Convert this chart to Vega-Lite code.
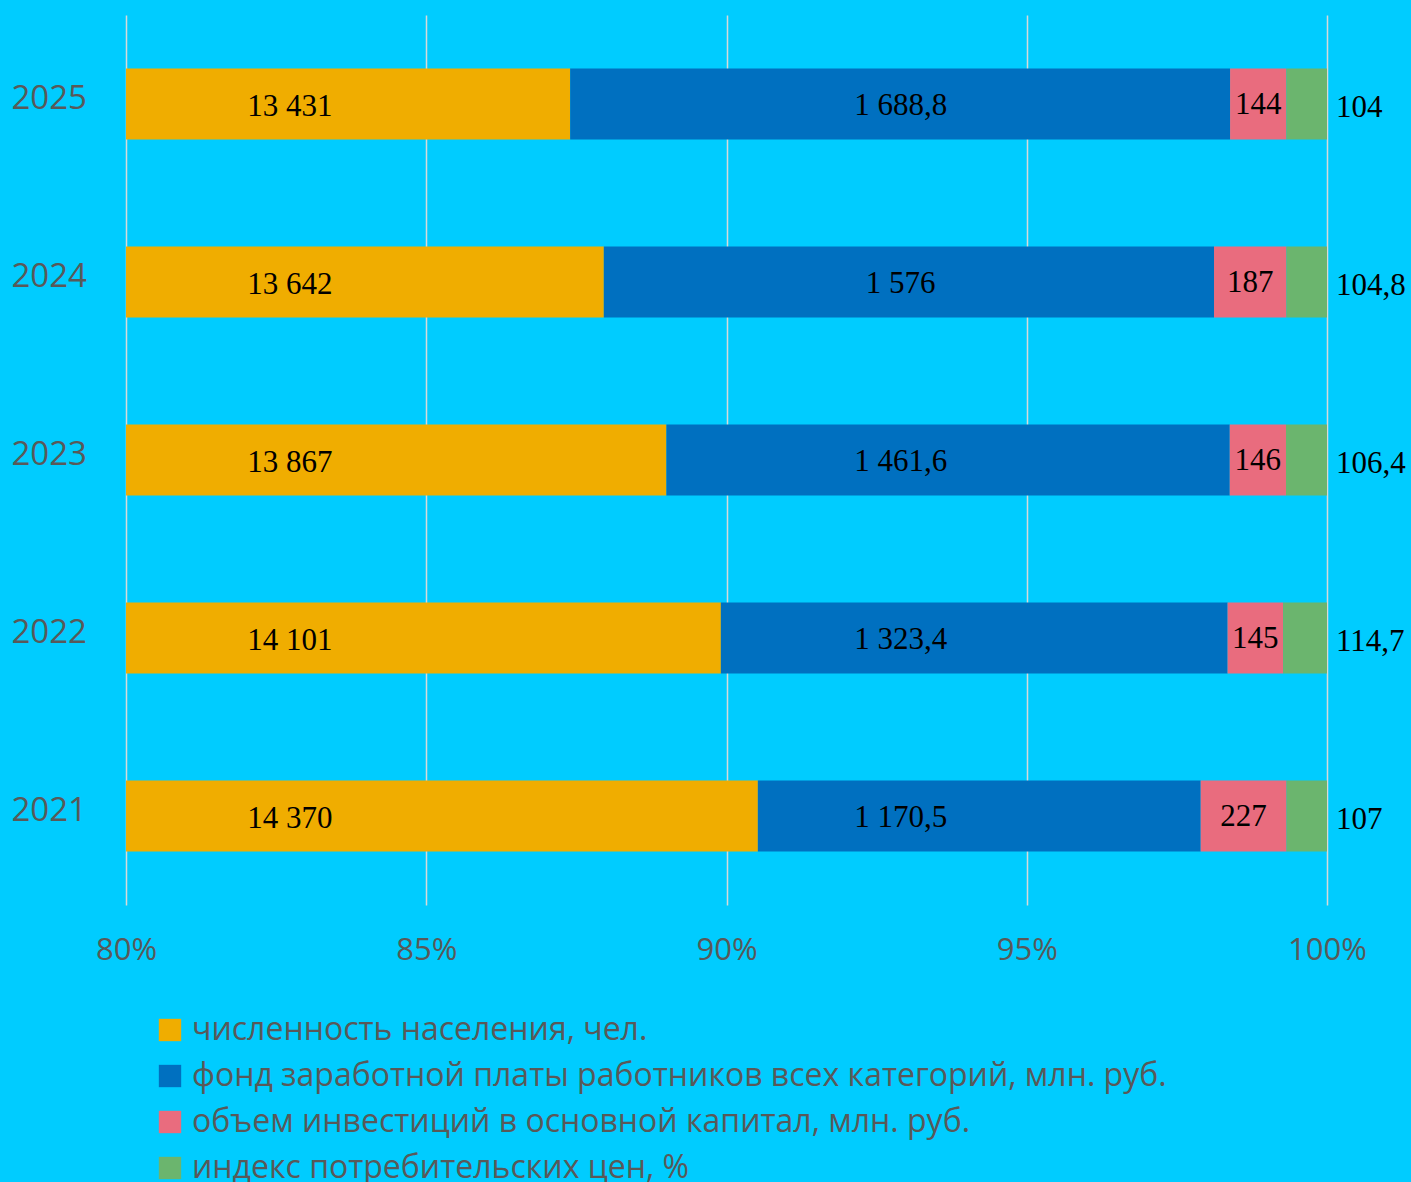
{
  "$schema": "https://vega.github.io/schema/vega-lite/v6.json",
  "width": 1201,
  "height": 890,
  "autosize": {"type": "none"},
  "padding": {"left": 126, "top": 15, "right": 84, "bottom": 277},
  "background": "#00CCFF",
  "config": {
    "view": {"stroke": null},
    "locale": {"number": {"decimal": ",", "thousands": " ", "grouping": [3], "currency": ["", ""]}}
  },
  "data": {
    "values": [
      {"year": "2025", "cat": "численность населения, чел.", "v": 13431},
      {"year": "2025", "cat": "фонд заработной платы работников всех категорий, млн. руб.", "v": 1688.8},
      {"year": "2025", "cat": "объем инвестиций в основной капитал, млн. руб.", "v": 144},
      {"year": "2025", "cat": "индекс потребительских цен, %", "v": 104},
      {"year": "2024", "cat": "численность населения, чел.", "v": 13642},
      {"year": "2024", "cat": "фонд заработной платы работников всех категорий, млн. руб.", "v": 1576},
      {"year": "2024", "cat": "объем инвестиций в основной капитал, млн. руб.", "v": 187},
      {"year": "2024", "cat": "индекс потребительских цен, %", "v": 104.8},
      {"year": "2023", "cat": "численность населения, чел.", "v": 13867},
      {"year": "2023", "cat": "фонд заработной платы работников всех категорий, млн. руб.", "v": 1461.6},
      {"year": "2023", "cat": "объем инвестиций в основной капитал, млн. руб.", "v": 146},
      {"year": "2023", "cat": "индекс потребительских цен, %", "v": 106.4},
      {"year": "2022", "cat": "численность населения, чел.", "v": 14101},
      {"year": "2022", "cat": "фонд заработной платы работников всех категорий, млн. руб.", "v": 1323.4},
      {"year": "2022", "cat": "объем инвестиций в основной капитал, млн. руб.", "v": 145},
      {"year": "2022", "cat": "индекс потребительских цен, %", "v": 114.7},
      {"year": "2021", "cat": "численность населения, чел.", "v": 14370},
      {"year": "2021", "cat": "фонд заработной платы работников всех категорий, млн. руб.", "v": 1170.5},
      {"year": "2021", "cat": "объем инвестиций в основной капитал, млн. руб.", "v": 227},
      {"year": "2021", "cat": "индекс потребительских цен, %", "v": 107}
    ]
  },
  "encoding": {
    "y": {
      "field": "year",
      "type": "nominal",
      "sort": "descending",
      "scale": {"paddingInner": 0.6, "paddingOuter": 0.3},
      "axis": {
        "title": null,
        "ticks": false,
        "domain": false,
        "labelFont": "Open Sans",
        "labelFontSize": 33,
        "labelColor": "#595959",
        "labelAlign": "left",
        "labelPadding": 115,
        "labelOffset": -5
      }
    }
  },
  "layer": [
    {
      "mark": {"type": "bar"},
      "encoding": {
        "x": {
          "field": "v",
          "type": "quantitative",
          "stack": "normalize",
          "scale": {"domain": [0.8, 1], "clamp": true, "nice": false},
          "axis": {
            "title": null,
            "format": ".0%",
            "values": [0.8, 0.85, 0.9, 0.95, 1],
            "ticks": false,
            "domain": false,
            "grid": true,
            "gridColor": "#D9D9D9",
            "gridWidth": 1.5,
            "labelFlush": false,
            "labelFont": "Open Sans",
            "labelFontSize": 31,
            "labelColor": "#595959",
            "labelPadding": 30
          }
        },
        "color": {
          "field": "cat",
          "type": "nominal",
          "scale": {
            "domain": [
              "численность населения, чел.",
              "фонд заработной платы работников всех категорий, млн. руб.",
              "объем инвестиций в основной капитал, млн. руб.",
              "индекс потребительских цен, %"
            ],
            "range": ["#F0AD00", "#0070C0", "#E96C7E", "#6BB56E"]
          },
          "legend": {
            "title": null,
            "orient": "none",
            "legendX": 28,
            "legendY": 999,
            "direction": "vertical",
            "padding": 0,
            "symbolType": "square",
            "symbolSize": 500,
            "symbolStrokeWidth": 0,
            "labelFont": "Open Sans",
            "labelFontSize": 32,
            "labelColor": "#595959",
            "labelOffset": 6,
            "rowPadding": 14,
            "labelLimit": 1200
          }
        },
        "order": {"field": "cat", "sort": "descending"}
      }
    },
    {
      "transform": [{"filter": "datum.cat === 'численность населения, чел.'"}],
      "mark": {"type": "text", "font": "Liberation Serif", "fontSize": 31, "color": "#000000", "align": "center", "baseline": "middle", "dy": 3},
      "encoding": {
        "x": {"datum": 0.8273, "type": "quantitative"},
        "text": {"field": "v", "type": "quantitative", "format": ",~f"}
      }
    },
    {
      "transform": [{"filter": "datum.cat === 'фонд заработной платы работников всех категорий, млн. руб.'"}],
      "mark": {"type": "text", "font": "Liberation Serif", "fontSize": 31, "color": "#000000", "align": "center", "baseline": "middle", "dy": 2},
      "encoding": {
        "x": {"datum": 0.929, "type": "quantitative"},
        "text": {"field": "v", "type": "quantitative", "format": ",~f"}
      }
    },
    {
      "transform": [
        {"joinaggregate": [{"op": "sum", "field": "v", "as": "total"}], "groupby": ["year"]},
        {"window": [{"op": "sum", "field": "v", "as": "cum"}], "groupby": ["year"], "sort": [{"field": "cat", "order": "descending"}], "frame": [null, 0]},
        {"calculate": "(datum.cum - datum.v / 2) / datum.total", "as": "mid"},
        {"filter": "datum.cat === 'объем инвестиций в основной капитал, млн. руб.'"}
      ],
      "mark": {"type": "text", "font": "Liberation Serif", "fontSize": 31, "color": "#000000", "align": "center", "baseline": "middle", "dy": 1},
      "encoding": {
        "x": {"field": "mid", "type": "quantitative"},
        "text": {"field": "v", "type": "quantitative", "format": ",~f"}
      }
    },
    {
      "transform": [{"filter": "datum.cat === 'индекс потребительских цен, %'"}],
      "mark": {"type": "text", "font": "Liberation Serif", "fontSize": 31, "color": "#000000", "align": "left", "baseline": "middle", "dx": 9, "dy": 4},
      "encoding": {
        "x": {"datum": 1, "type": "quantitative"},
        "text": {"field": "v", "type": "quantitative", "format": ",~f"}
      }
    }
  ]
}
